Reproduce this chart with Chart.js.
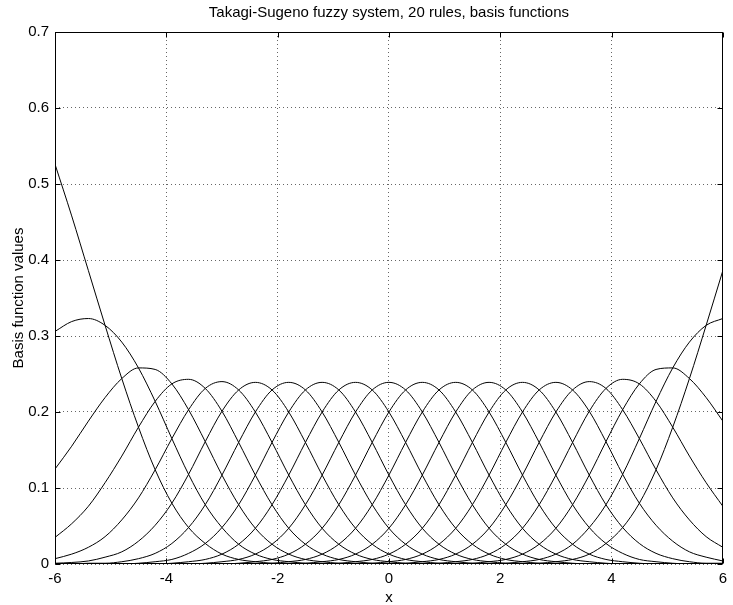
<!DOCTYPE html>
<html>
<head>
<meta charset="utf-8">
<script src="https://cdn.jsdelivr.net/npm/chart.js@4/dist/chart.umd.min.js"></script>
<style>
  html, body { margin: 0; padding: 0; background: #fff; }
  canvas { display: block; }
</style>
</head>
<body>
<canvas id="c" width="733" height="605"></canvas>
<script>
// ---- data ----
const titleText = 'Takagi-Sugeno fuzzy system, 20 rules, basis functions';
const xTitle = 'x';
const yTitle = 'Basis function values';
const xTickValues = [-6, -4, -2, 0, 2, 4, 6];
const yTickLabels = ['0', '0.1', '0.2', '0.3', '0.4', '0.5', '0.6', '0.7'];

const xValues = [-6, -5.7, -5.4, -5.1, -4.8, -4.5, -4.2, -3.9, -3.6, -3.3,
  -3, -2.7, -2.4, -2.1, -1.8, -1.5, -1.2, -0.9, -0.6, -0.3,
  0, 0.3, 0.6, 0.9, 1.2, 1.5, 1.8, 2.1, 2.4, 2.7,
  3, 3.3, 3.6, 3.9, 4.2, 4.5, 4.8, 5.1, 5.4, 5.7,
  6];

const rule01 = [0.526,0.458,0.386,0.314,0.244,0.180,0.124,0.080,0.048,0.027,
  0.013,0.006,0.003,0.001,0,0,0,0,0,0,
  0,0,0,0,0,0,0,0,0,0,
  0,0,0,0,0,0,0,0,0,0,
  0];
const rule02 = [0.306,0.319,0.323,0.314,0.292,0.258,0.214,0.165,0.118,0.078,
  0.048,0.026,0.013,0.006,0.003,0.001,0,0,0,0,
  0,0,0,0,0,0,0,0,0,0,
  0,0,0,0,0,0,0,0,0,0,
  0];
const rule03 = [0.125,0.155,0.188,0.219,0.244,0.258,0.256,0.237,0.203,0.161,
  0.117,0.078,0.047,0.026,0.013,0.006,0.003,0.001,0,0,
  0,0,0,0,0,0,0,0,0,0,
  0,0,0,0,0,0,0,0,0,0,
  0];
const rule04 = [0.035,0.053,0.076,0.107,0.142,0.180,0.214,0.237,0.243,0.231,
  0.201,0.160,0.117,0.078,0.047,0.026,0.013,0.006,0.003,0.001,
  0,0,0,0,0,0,0,0,0,0,
  0,0,0,0,0,0,0,0,0,0,
  0];
const rule05 = [0.007,0.013,0.022,0.036,0.058,0.087,0.124,0.165,0.203,0.231,
  0.240,0.229,0.200,0.160,0.117,0.078,0.047,0.026,0.013,0.006,
  0.003,0.001,0,0,0,0,0,0,0,0,
  0,0,0,0,0,0,0,0,0,0,
  0];
const rule06 = [0.001,0.002,0.004,0.009,0.016,0.030,0.051,0.080,0.118,0.161,
  0.201,0.229,0.239,0.229,0.200,0.160,0.117,0.078,0.047,0.026,
  0.013,0.006,0.003,0.001,0,0,0,0,0,0,
  0,0,0,0,0,0,0,0,0,0,
  0];
const rule07 = [0,0,0.001,0.001,0.003,0.007,0.014,0.027,0.048,0.078,
  0.117,0.160,0.200,0.229,0.239,0.229,0.200,0.160,0.117,0.078,
  0.047,0.026,0.013,0.006,0.003,0.001,0,0,0,0,
  0,0,0,0,0,0,0,0,0,0,
  0];
const rule08 = [0,0,0,0,0,0.001,0.003,0.006,0.014,0.027,
  0.048,0.078,0.117,0.160,0.200,0.229,0.239,0.229,0.200,0.160,
  0.117,0.078,0.047,0.026,0.013,0.006,0.003,0.001,0,0,
  0,0,0,0,0,0,0,0,0,0,
  0];
const rule09 = [0,0,0,0,0,0,0,0.001,0.003,0.006,
  0.013,0.026,0.047,0.078,0.117,0.160,0.200,0.229,0.239,0.229,
  0.200,0.160,0.117,0.078,0.047,0.026,0.013,0.006,0.003,0.001,
  0,0,0,0,0,0,0,0,0,0,
  0];
const rule10 = [0,0,0,0,0,0,0,0,0,0.001,
  0.003,0.006,0.013,0.026,0.047,0.078,0.117,0.160,0.200,0.229,
  0.239,0.229,0.200,0.160,0.117,0.078,0.047,0.026,0.013,0.006,
  0.003,0.001,0,0,0,0,0,0,0,0,
  0];
const rule11 = [0,0,0,0,0,0,0,0,0,0,
  0,0.001,0.003,0.006,0.013,0.026,0.047,0.078,0.117,0.160,
  0.200,0.229,0.239,0.229,0.200,0.160,0.117,0.078,0.047,0.026,
  0.013,0.006,0.003,0.001,0,0,0,0,0,0,
  0];
const rule12 = [0,0,0,0,0,0,0,0,0,0,
  0,0,0,0.001,0.003,0.006,0.013,0.026,0.047,0.078,
  0.117,0.160,0.200,0.229,0.239,0.229,0.200,0.160,0.117,0.078,
  0.047,0.026,0.013,0.006,0.003,0.001,0,0,0,0,
  0];
const rule13 = [0,0,0,0,0,0,0,0,0,0,
  0,0,0,0,0,0.001,0.003,0.006,0.013,0.026,
  0.047,0.078,0.117,0.160,0.200,0.229,0.239,0.229,0.200,0.160,
  0.117,0.078,0.048,0.027,0.014,0.006,0.003,0.001,0,0,
  0];
const rule14 = [0,0,0,0,0,0,0,0,0,0,
  0,0,0,0,0,0,0,0.001,0.003,0.006,
  0.013,0.026,0.047,0.078,0.117,0.160,0.200,0.229,0.239,0.229,
  0.200,0.160,0.117,0.078,0.048,0.027,0.014,0.007,0.003,0.001,
  0.001];
const rule15 = [0,0,0,0,0,0,0,0,0,0,
  0,0,0,0,0,0,0,0,0,0.001,
  0.003,0.006,0.013,0.026,0.047,0.078,0.117,0.160,0.200,0.229,
  0.239,0.229,0.201,0.161,0.118,0.080,0.051,0.030,0.016,0.009,
  0.004];
const rule16 = [0,0,0,0,0,0,0,0,0,0,
  0,0,0,0,0,0,0,0,0,0,
  0,0.001,0.003,0.006,0.013,0.026,0.047,0.078,0.117,0.160,
  0.200,0.229,0.240,0.231,0.203,0.165,0.124,0.087,0.058,0.036,
  0.022];
const rule17 = [0,0,0,0,0,0,0,0,0,0,
  0,0,0,0,0,0,0,0,0,0,
  0,0,0,0.001,0.003,0.006,0.013,0.026,0.047,0.078,
  0.117,0.160,0.201,0.231,0.243,0.237,0.214,0.180,0.142,0.107,
  0.076];
const rule18 = [0,0,0,0,0,0,0,0,0,0,
  0,0,0,0,0,0,0,0,0,0,
  0,0,0,0,0,0.001,0.003,0.006,0.013,0.026,
  0.047,0.078,0.117,0.161,0.203,0.237,0.256,0.258,0.244,0.219,
  0.188];
const rule19 = [0,0,0,0,0,0,0,0,0,0,
  0,0,0,0,0,0,0,0,0,0,
  0,0,0,0,0,0,0,0.001,0.003,0.006,
  0.013,0.026,0.048,0.078,0.118,0.165,0.214,0.258,0.292,0.314,
  0.323];
const rule20 = [0,0,0,0,0,0,0,0,0,0,
  0,0,0,0,0,0,0,0,0,0,
  0,0,0,0,0,0,0,0,0,0.001,
  0.003,0.006,0.013,0.027,0.048,0.080,0.124,0.180,0.244,0.314,
  0.386];

const rules = [rule01, rule02, rule03, rule04, rule05, rule06, rule07, rule08, rule09, rule10,
  rule11, rule12, rule13, rule14, rule15, rule16, rule17, rule18, rule19, rule20];

// ---- chart ----
const FONT = '"Liberation Sans", Arial, Helvetica, sans-serif';
Chart.defaults.font.family = FONT;
Chart.defaults.color = '#000';

const datasets = rules.map((arr, r) => ({
  label: 'Rule ' + (r + 1),
  data: arr.map((v, i) => ({ x: xValues[i], y: v })),
  borderColor: '#000',
  borderWidth: 1,
  pointRadius: 0,
  fill: false,
  cubicInterpolationMode: 'monotone'
}));

const framePlugin = {
  id: 'frame',
  afterDatasetsDraw(chart) {
    const { ctx, chartArea: a, scales } = chart;
    const L = Math.round(a.left) + 0.5, R = Math.round(a.right) - 0.5;
    const T = Math.round(a.top) + 0.5, B = Math.round(a.bottom) - 0.5;
    ctx.save();
    ctx.strokeStyle = '#000';
    ctx.lineWidth = 1;
    ctx.setLineDash([]);
    ctx.strokeRect(L, T, R - L, B - T);
    ctx.beginPath();
    const tl = 5;
    scales.x.ticks.forEach(t => {
      const px = Math.round(scales.x.getPixelForValue(t.value)) + 0.5;
      ctx.moveTo(px, B); ctx.lineTo(px, B - tl);
      ctx.moveTo(px, T); ctx.lineTo(px, T + tl);
    });
    scales.y.ticks.forEach(t => {
      const py = Math.round(scales.y.getPixelForValue(t.value)) + 0.5;
      ctx.moveTo(L, py); ctx.lineTo(L + tl, py);
      ctx.moveTo(R, py); ctx.lineTo(R - tl, py);
    });
    ctx.stroke();
    ctx.restore();
  }
};

const gridOpts = { color: 'rgba(0,0,0,0.6)', lineWidth: 1, drawTicks: false };
const borderOpts = { display: false, dash: [1, 3] };
const textFont = { family: FONT, size: 15 };

new Chart(document.getElementById('c'), {
  type: 'line',
  data: { datasets },
  options: {
    responsive: false,
    animation: false,
    events: [],
    layout: { padding: { left: 0, right: 4, top: 0, bottom: 0 } },
    plugins: {
      legend: { display: false },
      tooltip: { enabled: false },
      title: { display: false }
    },
    scales: {
      x: {
        type: 'linear',
        min: -6, max: 6,
        afterFit: s => { s.height = 41; },
        afterBuildTicks: s => { s.ticks = xTickValues.map(v => ({ value: v })); },
        ticks: { color: '#000', font: textFont, padding: 6, maxRotation: 0, autoSkip: false,
          callback: v => String(v) },
        grid: gridOpts,
        border: borderOpts,
        title: { display: true, text: xTitle, color: '#000',
          font: { family: FONT, size: 15, lineHeight: 1 }, padding: { top: 0, bottom: 0 } }
      },
      top: {
        type: 'linear',
        position: 'top',
        min: -6, max: 6,
        afterFit: s => { s.height = 32; },
        ticks: { display: false },
        grid: { display: false, drawTicks: false },
        border: { display: false },
        title: { display: true, text: titleText, color: '#000',
          font: { family: FONT, size: 15, lineHeight: 1.2 }, padding: { top: 4, bottom: 0 } }
      },
      y: {
        type: 'linear',
        min: 0, max: 0.7,
        afterFit: s => { s.width = 55; },
        afterBuildTicks: s => { s.ticks = yTickLabels.map(l => ({ value: parseFloat(l) })); },
        ticks: { color: '#000', font: textFont, padding: 6,
          callback: (v, i) => yTickLabels[i] },
        grid: gridOpts,
        border: borderOpts,
        title: { display: true, text: yTitle, color: '#000', font: textFont, padding: { top: 10, bottom: 0 } }
      }
    }
  },
  plugins: [framePlugin]
});
</script>
</body>
</html>
